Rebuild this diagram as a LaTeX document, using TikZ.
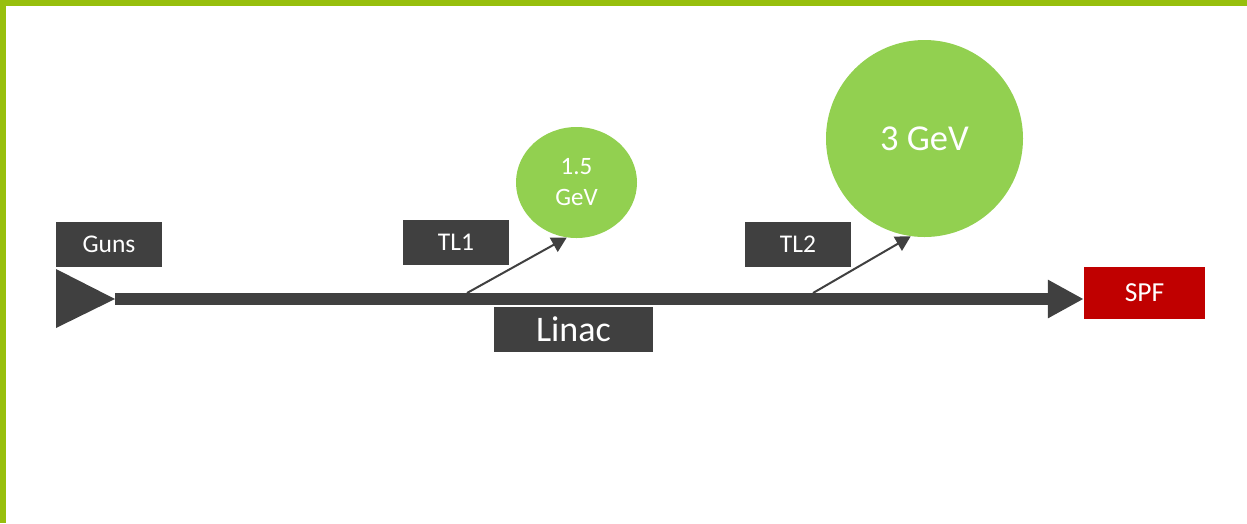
\documentclass[tikz,border=0pt]{standalone}
\usepackage{fontspec}
\setmainfont{Carlito}
\usetikzlibrary{arrows.meta,shapes.geometric}
\definecolor{frame}{HTML}{97BF0D}
\definecolor{darkbox}{HTML}{404040}
\definecolor{beamgreen}{HTML}{92D050}
\definecolor{spfred}{HTML}{C00000}
\tikzset{
  labelbox/.style={fill=darkbox, text=white, inner sep=0pt, font=\fontsize{25.5}{30}\selectfont},
  ring/.style={ellipse, fill=beamgreen, text=white, inner sep=0pt, align=center},
  transfer/.style={draw=darkbox, line width=2pt, -{Triangle[length=15pt,width=16pt]}},
  mainline/.style={draw=darkbox, line width=12pt, -{Triangle[length=36pt,width=36pt]}}
}
\begin{document}
\begin{tikzpicture}[x=1pt, y=-1pt]
  \useasboundingbox (0,0) rectangle (1247,523);
  % frame strips along the top and left edges
  \fill[frame] (0,0) rectangle (1247,6);
  \fill[frame] (0,0) rectangle (6,523);

  % labels
  \node[labelbox, minimum width=106pt, minimum height=45pt] (guns) at (109,244.5) {Guns};
  \node[labelbox, minimum width=106pt, minimum height=45pt] (tl1) at (456,242.5) {TL1};
  \node[labelbox, minimum width=106pt, minimum height=45pt] (tl2) at (798,244.5) {TL2};
  \node[labelbox, minimum width=159pt, minimum height=45pt, font=\fontsize{36}{40}\selectfont] (linac) at (573.5,329.5) {Linac};
  \node[labelbox, fill=spfred, minimum width=121pt, minimum height=52pt, font=\fontsize{27.5}{30}\selectfont] (spf) at (1144.5,293) {SPF};

  % storage rings
  \node[ring, minimum width=121pt, minimum height=111pt, font=\fontsize{25}{31}\selectfont] (ring15) at (576.5,182.5) {1.5\\GeV};
  \node[ring, minimum width=197pt, minimum height=197pt, font=\fontsize{36.5}{40}\selectfont] (ring3) at (924.5,138.5) {3 GeV};

  % electron guns
  \fill[darkbox] (56,269) -- (115,299) -- (56,328) -- cycle;
  \coordinate (gunsTip) at (115,299);

  % linac beam line
  \draw[mainline] (gunsTip) -- (spf.west |- gunsTip);

  % transfer lines
  \coordinate (tl1Start) at (467,293);
  \coordinate (tl2Start) at (813,293);
  \draw[transfer] (tl1Start) -- (ring15.-100);
  \draw[transfer] (tl2Start) -- (ring3.-98);
\end{tikzpicture}
\end{document}
